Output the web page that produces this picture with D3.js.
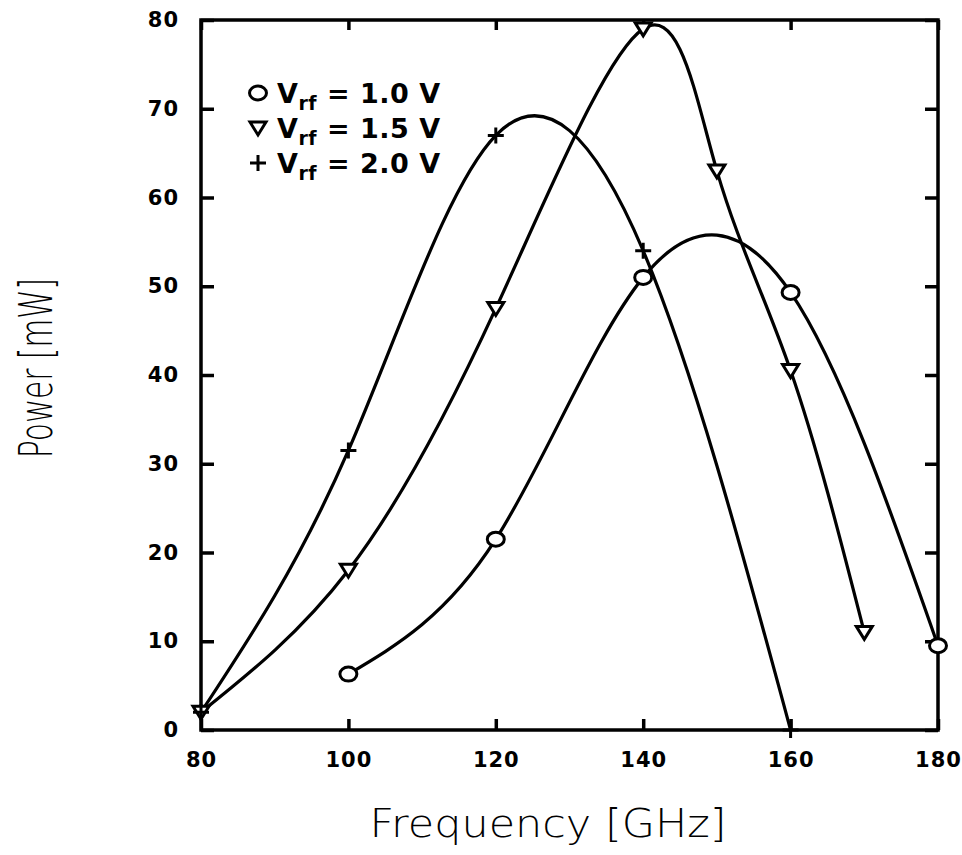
<!DOCTYPE html>
<html>
<head>
<meta charset="utf-8">
<script src="https://cdn.jsdelivr.net/npm/d3@7"></script>
<style>
  body { margin: 0; background: #fff; }
  svg { display: block; }
  .tick text { font-family: "DejaVu Sans", sans-serif; font-weight: bold; font-size: 21px; letter-spacing: 1px; }
  .title { font-family: "DejaVu Sans", sans-serif; font-weight: 200; }
</style>
</head>
<body>
<div class="canvas"></div>
<script>
const dims = { width: 962, height: 855 }
const margin = { left: 201, right: 24, top: 20, bottom: 125 }

// series values
const freq10 = [100, 120, 140, 160, 180]
const pow10 = [6.3, 21.5, 51, 49.3, 9.5]
const freq15 = [80, 100, 120, 140, 150, 160, 170]
const pow15 = [2, 18, 47.5, 79, 63, 40.5, 11]
const freq20 = [80, 100, 120, 140, 160]
const pow20 = [2, 31.5, 67, 54, 0]

const xTicks = [80, 100, 120, 140, 160, 180]
const yTicks = [0, 10, 20, 30, 40, 50, 60, 70, 80]
const legendLabels = ['1.0 V', '1.5 V', '2.0 V']
const markers = ['circle', 'triangle', 'plus']

const series = [
    { name: legendLabels[0], marker: markers[0], pts: freq10.map((f, i) => ({ f, p: pow10[i] })) },
    { name: legendLabels[1], marker: markers[1], pts: freq15.map((f, i) => ({ f, p: pow15[i] })) },
    { name: legendLabels[2], marker: markers[2], pts: freq20.map((f, i) => ({ f, p: pow20[i] })) }
]

const svg = d3.select('.canvas')
    .append('svg')
    .attr('width', dims.width)
    .attr('height', dims.height)

const w = dims.width - margin.left - margin.right
const h = dims.height - margin.top - margin.bottom

const x = d3.scaleLinear().domain([80, 180]).range([0, w])
const y = d3.scaleLinear().domain([0, 80]).range([h, 0])

const graph = svg.append('g')
    .attr('transform', `translate(${margin.left}, ${margin.top})`)

// axes with inward ticks on all four sides
graph.append('g')
    .attr('transform', `translate(0, ${h})`)
    .call(d3.axisBottom(x).tickValues(xTicks).tickSizeInner(-11).tickSizeOuter(0).tickPadding(22))
graph.append('g')
    .call(d3.axisLeft(y).tickValues(yTicks).tickSizeInner(-13).tickSizeOuter(0).tickPadding(22))
graph.append('g')
    .attr('transform', `translate(${w}, 0)`)
    .call(d3.axisRight(y).tickValues(yTicks).tickSizeInner(-13).tickSizeOuter(0).tickFormat(''))
graph.append('g')
    .call(d3.axisTop(x).tickValues(xTicks).tickSizeInner(-10).tickSizeOuter(0).tickFormat(''))

graph.selectAll('.domain').remove()
graph.selectAll('.tick line').attr('stroke', '#000').attr('stroke-width', 3.5)

graph.append('rect')
    .attr('width', w)
    .attr('height', h)
    .attr('fill', 'none')
    .attr('stroke', '#000')
    .attr('stroke-width', 3.5)

// curves
const line = d3.line()
    .x(d => x(d.f))
    .y(d => y(d.p))
    .curve(d3.curveNatural)

graph.selectAll('path.curve')
    .data(series)
    .enter()
    .append('path')
    .attr('class', 'curve')
    .attr('d', d => line(d.pts))
    .attr('fill', 'none')
    .attr('stroke', '#000')
    .attr('stroke-width', 3.2)

// marker shapes
const drawMarker = (g, type) => {
    if (type === 'circle') {
        g.append('ellipse').attr('rx', 8.5).attr('ry', 7)
            .attr('fill', '#fff').attr('stroke', '#000').attr('stroke-width', 3)
    } else if (type === 'triangle') {
        g.append('path').attr('d', 'M-8,-6 L8,-6 L0,7 Z')
            .attr('fill', '#fff').attr('stroke', '#000').attr('stroke-width', 3)
    } else {
        g.append('path').attr('d', 'M-8,0 H8 M0,-8 V8')
            .attr('fill', 'none').attr('stroke', '#000').attr('stroke-width', 3)
    }
}

series.forEach(s => {
    graph.selectAll(null)
        .data(s.pts)
        .enter()
        .append('g')
        .attr('transform', d => `translate(${x(d.f)}, ${y(d.p)})`)
        .each(function () { drawMarker(d3.select(this), s.marker) })
})

// legend
const legend = graph.append('g').attr('transform', 'translate(57, 73)')
series.forEach((s, i) => {
    const row = legend.append('g').attr('transform', `translate(0, ${i * 35})`)
    drawMarker(row, s.marker)
    const t = row.append('text')
        .attr('x', 19)
        .attr('y', 10)
        .attr('font-family', '"DejaVu Sans", sans-serif')
        .attr('font-weight', 'bold')
        .attr('font-size', 27)
        .attr('letter-spacing', 0.5)
    t.append('tspan').text('V')
    t.append('tspan').attr('dy', 7).attr('font-size', 19).text('rf')
    t.append('tspan').attr('dy', -7).text(' = ' + s.name)
})

// axis titles
svg.append('text')
    .attr('class', 'title')
    .attr('x', 548)
    .attr('y', 837)
    .attr('text-anchor', 'middle')
    .attr('font-size', 39)
    .attr('textLength', 357)
    .attr('lengthAdjust', 'spacingAndGlyphs')
    .text('Frequency [GHz]')

svg.append('text')
    .attr('class', 'title')
    .attr('transform', `translate(52, 368) rotate(-90)`)
    .attr('text-anchor', 'middle')
    .attr('font-size', 46)
    .attr('textLength', 180)
    .attr('lengthAdjust', 'spacingAndGlyphs')
    .text('Power [mW]')
</script>
</body>
</html>
